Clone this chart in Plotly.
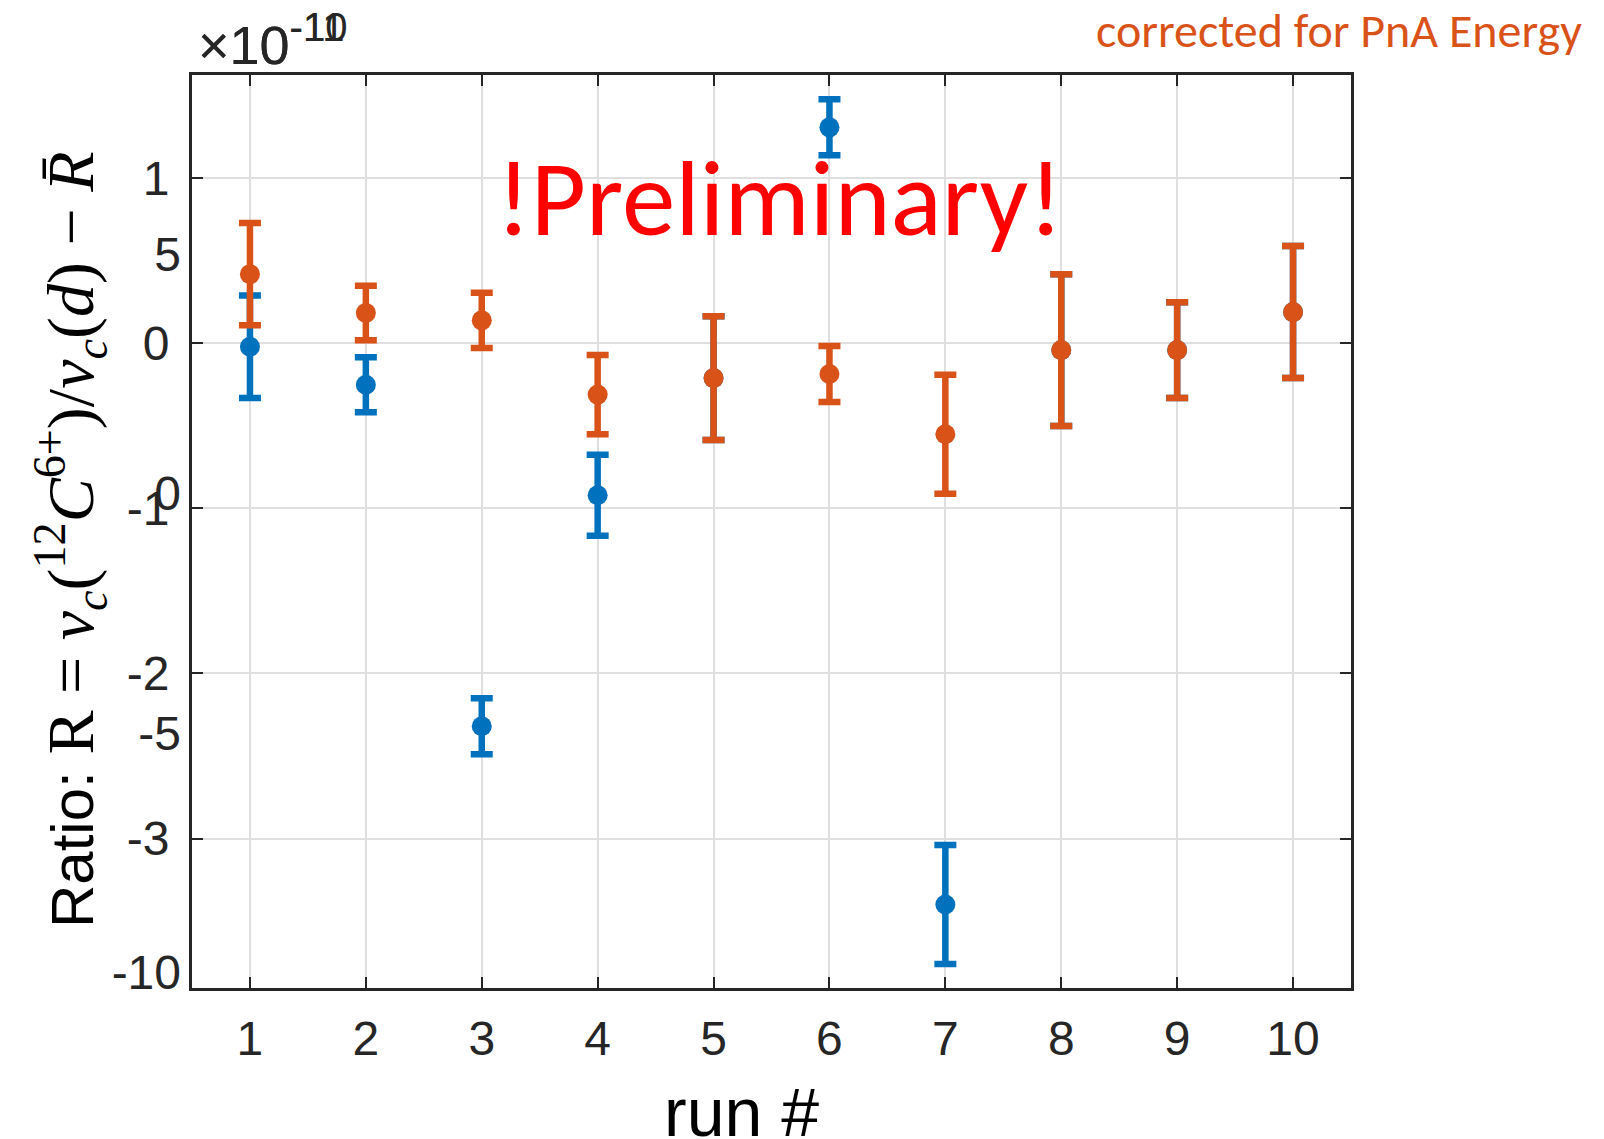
import plotly.graph_objects as go

# ---- data (values in units of 1e-10) ----
runs = [1, 2, 3, 4, 5, 6, 7, 8, 9, 10]
raw_vals = [-0.02, -0.25, -2.32, -0.92, -0.21, 1.31, -3.40, -0.04, -0.04, 0.19]
raw_errs = [0.31, 0.167, 0.17, 0.245, 0.375, 0.17, 0.36, 0.46, 0.29, 0.40]
corr_vals = [0.42, 0.185, 0.14, -0.31, -0.21, -0.185, -0.55, -0.04, -0.04, 0.19]
corr_errs = [0.31, 0.165, 0.167, 0.24, 0.375, 0.17, 0.36, 0.46, 0.29, 0.40]

y_ticks = [-3, -2, -1, 0, 1]
y_ticktext = ["-3", "-2", "-1", "0", "1"]
y2_ticks = [-10, -5, 0, 5]
y2_ticktext = ["-10", "-5", "0", "5"]
x_ticks = runs

BLUE = "#0072BD"
ORANGE = "#D95319"
DARK = "#262626"

W, H = 1604, 1139
L, R, T, B = 192, 1351, 75, 988  # plot area in px


def px(x):
    return (x - L) / (R - L)


def py(y):
    return (B - y) / (B - T)


fig = go.Figure()

fig.add_trace(go.Scatter(
    x=runs, y=raw_vals, mode="markers",
    marker=dict(color=BLUE, size=20),
    error_y=dict(type="data", array=raw_errs, color=BLUE, thickness=6.5, width=11),
    showlegend=False,
))
fig.add_trace(go.Scatter(
    x=runs, y=corr_vals, mode="markers",
    marker=dict(color=ORANGE, size=20),
    error_y=dict(type="data", array=corr_errs, color=ORANGE, thickness=6.5, width=11),
    showlegend=False,
))
# empty trace so the second (overlaid) y axis draws its labels
fig.add_trace(go.Scatter(x=[1], y=[0], yaxis="y2", mode="markers",
                         marker=dict(opacity=0), showlegend=False, hoverinfo="skip"))

tickfont = dict(family="Liberation Sans, Arial, sans-serif", size=48, color=DARK)

fig.update_layout(
    width=W, height=H,
    margin=dict(l=L, r=W - R, t=T, b=H - B, pad=0),
    paper_bgcolor="white", plot_bgcolor="white",
    xaxis=dict(
        range=[0.5, 10.5], tickvals=x_ticks, ticktext=[str(v) for v in x_ticks],
        showgrid=True, gridcolor="#DFDFDF", gridwidth=1.5,
        showline=True, linecolor=DARK, linewidth=3, mirror="ticks",
        ticks="inside", ticklen=11, tickwidth=2, tickcolor=DARK,
        tickfont=dict(family="Liberation Sans, Arial, sans-serif", size=48, color=DARK),
        ticklabelstandoff=6, zeroline=False,
    ),
    yaxis=dict(
        range=[-3.906, 1.627], tickvals=y_ticks, ticktext=y_ticktext,
        showgrid=True, gridcolor="#DFDFDF", gridwidth=1.5,
        showline=True, linecolor=DARK, linewidth=3, mirror="ticks",
        ticks="inside", ticklen=11, tickwidth=2, tickcolor=DARK,
        tickfont=tickfont, ticklabelstandoff=10, zeroline=False,
    ),
    yaxis2=dict(
        range=[-10.32, 8.74], tickvals=y2_ticks, ticktext=y2_ticktext,
        overlaying="y", side="left", anchor="x",
        showgrid=False, showline=False, ticks="", zeroline=False,
        tickfont=tickfont, ticklabelstandoff=10,
    ),
)

anns = []
# exponent labels (overlapping, as in the reference)
for txt in ["×10<sup><span style=\"font-size:40px\">-10</span></sup>",
            "×10<sup><span style=\"font-size:40px\">-11</span></sup>"]:
    anns.append(dict(
        x=px(196), y=py(40), xref="paper", yref="paper", xanchor="left", yanchor="middle",
        text=txt, showarrow=False,
        font=dict(family="Liberation Sans, Arial, sans-serif", size=54, color=DARK),
    ))
# y-axis title
math = "font-family:'Liberation Serif','DejaVu Serif',serif;font-size:66px"
ytitle = ("Ratio: <span style=\"" + math + "\">R = <i>ν</i><sub><i>c</i></sub>(<sup>12</sup><i>C</i><sup>6+</sup>)"
          "/<i>ν</i><sub><i>c</i></sub>(<i>d</i>) − <i>R̄</i></span>")
anns.append(dict(
    x=px(70), y=py(540), xref="paper", yref="paper", xanchor="center", yanchor="middle",
    text=ytitle, textangle=-90, showarrow=False,
    font=dict(family="Liberation Sans, Arial, sans-serif", size=60, color="black"),
))
# x-axis title
anns.append(dict(
    x=px(741), y=py(1112), xref="paper", yref="paper", xanchor="center", yanchor="middle",
    text="run #", showarrow=False,
    font=dict(family="Liberation Sans, Arial, sans-serif", size=68, color="black"),
))
# Preliminary
anns.append(dict(
    x=px(779), y=py(199), xref="paper", yref="paper", xanchor="center", yanchor="middle",
    text="!Preliminary!", showarrow=False,
    font=dict(family="Carlito, Lato, sans-serif", size=107, color="#FF0000"),
))
# corrected note
anns.append(dict(
    x=px(1584), y=py(30), xref="paper", yref="paper", xanchor="right", yanchor="middle",
    text="corrected for PnA Energy", showarrow=False,
    font=dict(family="Carlito, Lato, sans-serif", size=48, color=ORANGE),
))
fig.update_layout(annotations=anns)

fig.write_html("out.html", config={"displayModeBar": False},
               post_script="document.body.style.margin='0';document.body.style.overflow='hidden';")
